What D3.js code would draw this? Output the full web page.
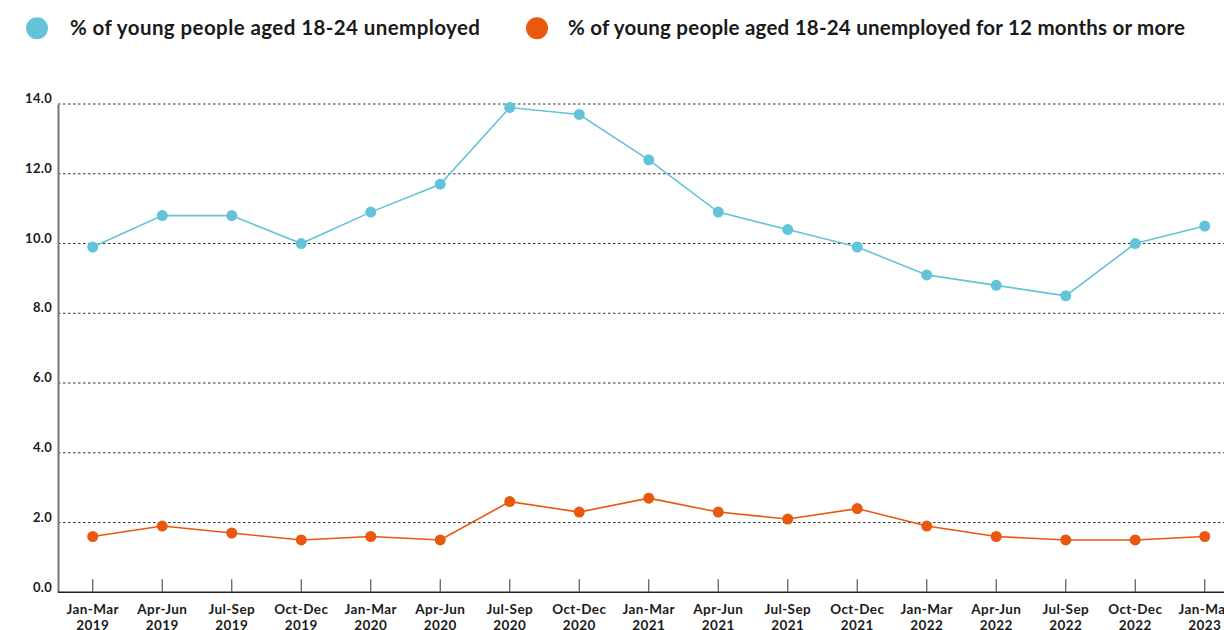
<!DOCTYPE html>
<html><head><meta charset="utf-8">
<script src="https://cdn.jsdelivr.net/npm/d3@7"></script>
<style>
body{margin:0;background:#fff;}
text{font-family:"Lato","DejaVu Sans",sans-serif;font-weight:700;fill:#1a1a1a;}
</style></head>
<body><svg id="chart" width="1224" height="630"></svg>
<script>
const categories = ["Jan-Mar 2019","Apr-Jun 2019","Jul-Sep 2019","Oct-Dec 2019","Jan-Mar 2020","Apr-Jun 2020","Jul-Sep 2020","Oct-Dec 2020","Jan-Mar 2021","Apr-Jun 2021","Jul-Sep 2021","Oct-Dec 2021","Jan-Mar 2022","Apr-Jun 2022","Jul-Sep 2022","Oct-Dec 2022","Jan-Mar 2023"];
const unemployed = [9.9,10.8,10.8,10.0,10.9,11.7,13.9,13.7,12.4,10.9,10.4,9.9,9.1,8.8,8.5,10.0,10.5];
const longTerm = [1.6,1.9,1.7,1.5,1.6,1.5,2.6,2.3,2.7,2.3,2.1,2.4,1.9,1.6,1.5,1.5,1.6];
const yTicks = [0,2,4,6,8,10,12,14];
const seriesNames = ["% of young people aged 18-24 unemployed","% of young people aged 18-24 unemployed for 12 months or more"];
const colors = ["#63c4d9","#e9580e"];

(function(){
const svg = d3.select("#chart");
const left = 58, bottom = 592.3, topY = 104;
const bandW = 69.5;
const x = d3.scaleBand().domain(categories).range([left, left + bandW*categories.length]).padding(0);
const y = d3.scaleLinear().domain([0,14]).range([bottom, topY]);

// gridlines
svg.append("g").selectAll("line").data(yTicks.filter(d=>d>0)).join("line")
  .attr("x1", left).attr("x2", 1224)
  .attr("y1", d=>y(d)).attr("y2", d=>y(d))
  .attr("stroke","#333").attr("stroke-width",1).attr("stroke-dasharray","2.5,2.5");

// y axis
const yAxis = d3.axisLeft(y).tickValues(yTicks).tickFormat(d3.format(".1f")).tickSize(0).tickPadding(6);
const yg = svg.append("g").attr("transform",`translate(${left},0)`).call(yAxis);
yg.select(".domain").attr("stroke","#777").attr("stroke-width",2);
yg.selectAll("text").attr("font-size",13).attr("dy","-0.1em").attr("font-family","Lato, sans-serif").attr("font-weight",700).attr("fill","#1a1a1a").attr("x",-6).attr("letter-spacing",0.3);

// x axis
const xAxis = d3.axisBottom(x).tickSize(-13).tickFormat("");
const xg = svg.append("g").attr("transform",`translate(0,${bottom})`).call(xAxis);
xg.select(".domain").attr("stroke","#222").attr("stroke-width",1.5).attr("d",`M${left},0H1224`);
xg.selectAll(".tick line").attr("stroke","#555").attr("stroke-width",1.2);
xg.selectAll(".tick").each(function(d){
  const parts = d.split(" ");
  const t = d3.select(this).append("text").attr("text-anchor","middle").attr("font-size",13.5).attr("letter-spacing",0.4).attr("fill","#1a1a1a");
  t.append("tspan").attr("x",0).attr("y",22).text(parts[0]);
  t.append("tspan").attr("x",0).attr("y",37.5).text(parts[1]);
});

// lines and points
const cx = d => x(d) + x.bandwidth()/2;
[unemployed, longTerm].forEach((vals, i) => {
  const line = d3.line().x((d,j)=>cx(categories[j])).y(d=>y(d));
  svg.append("path").datum(vals).attr("d", line).attr("fill","none").attr("stroke",colors[i]).attr("stroke-width",1.6);
  svg.append("g").selectAll("circle").data(vals).join("circle")
    .attr("cx",(d,j)=>cx(categories[j])).attr("cy",d=>y(d)).attr("r",5.5).attr("fill",colors[i]);
});

// legend
const legendX = [37, 537];
const legendTextX = [70, 568];
const legendLen = [410, 617];
seriesNames.forEach((n,i)=>{
  svg.append("circle").attr("cx",legendX[i]).attr("cy",28.3).attr("r",11).attr("fill",colors[i]);
  svg.append("text").attr("x",legendTextX[i]).attr("y",35).attr("font-size",20.5)
    .attr("textLength",legendLen[i]).attr("lengthAdjust","spacing").text(n);
});
})();
</script></body></html>
